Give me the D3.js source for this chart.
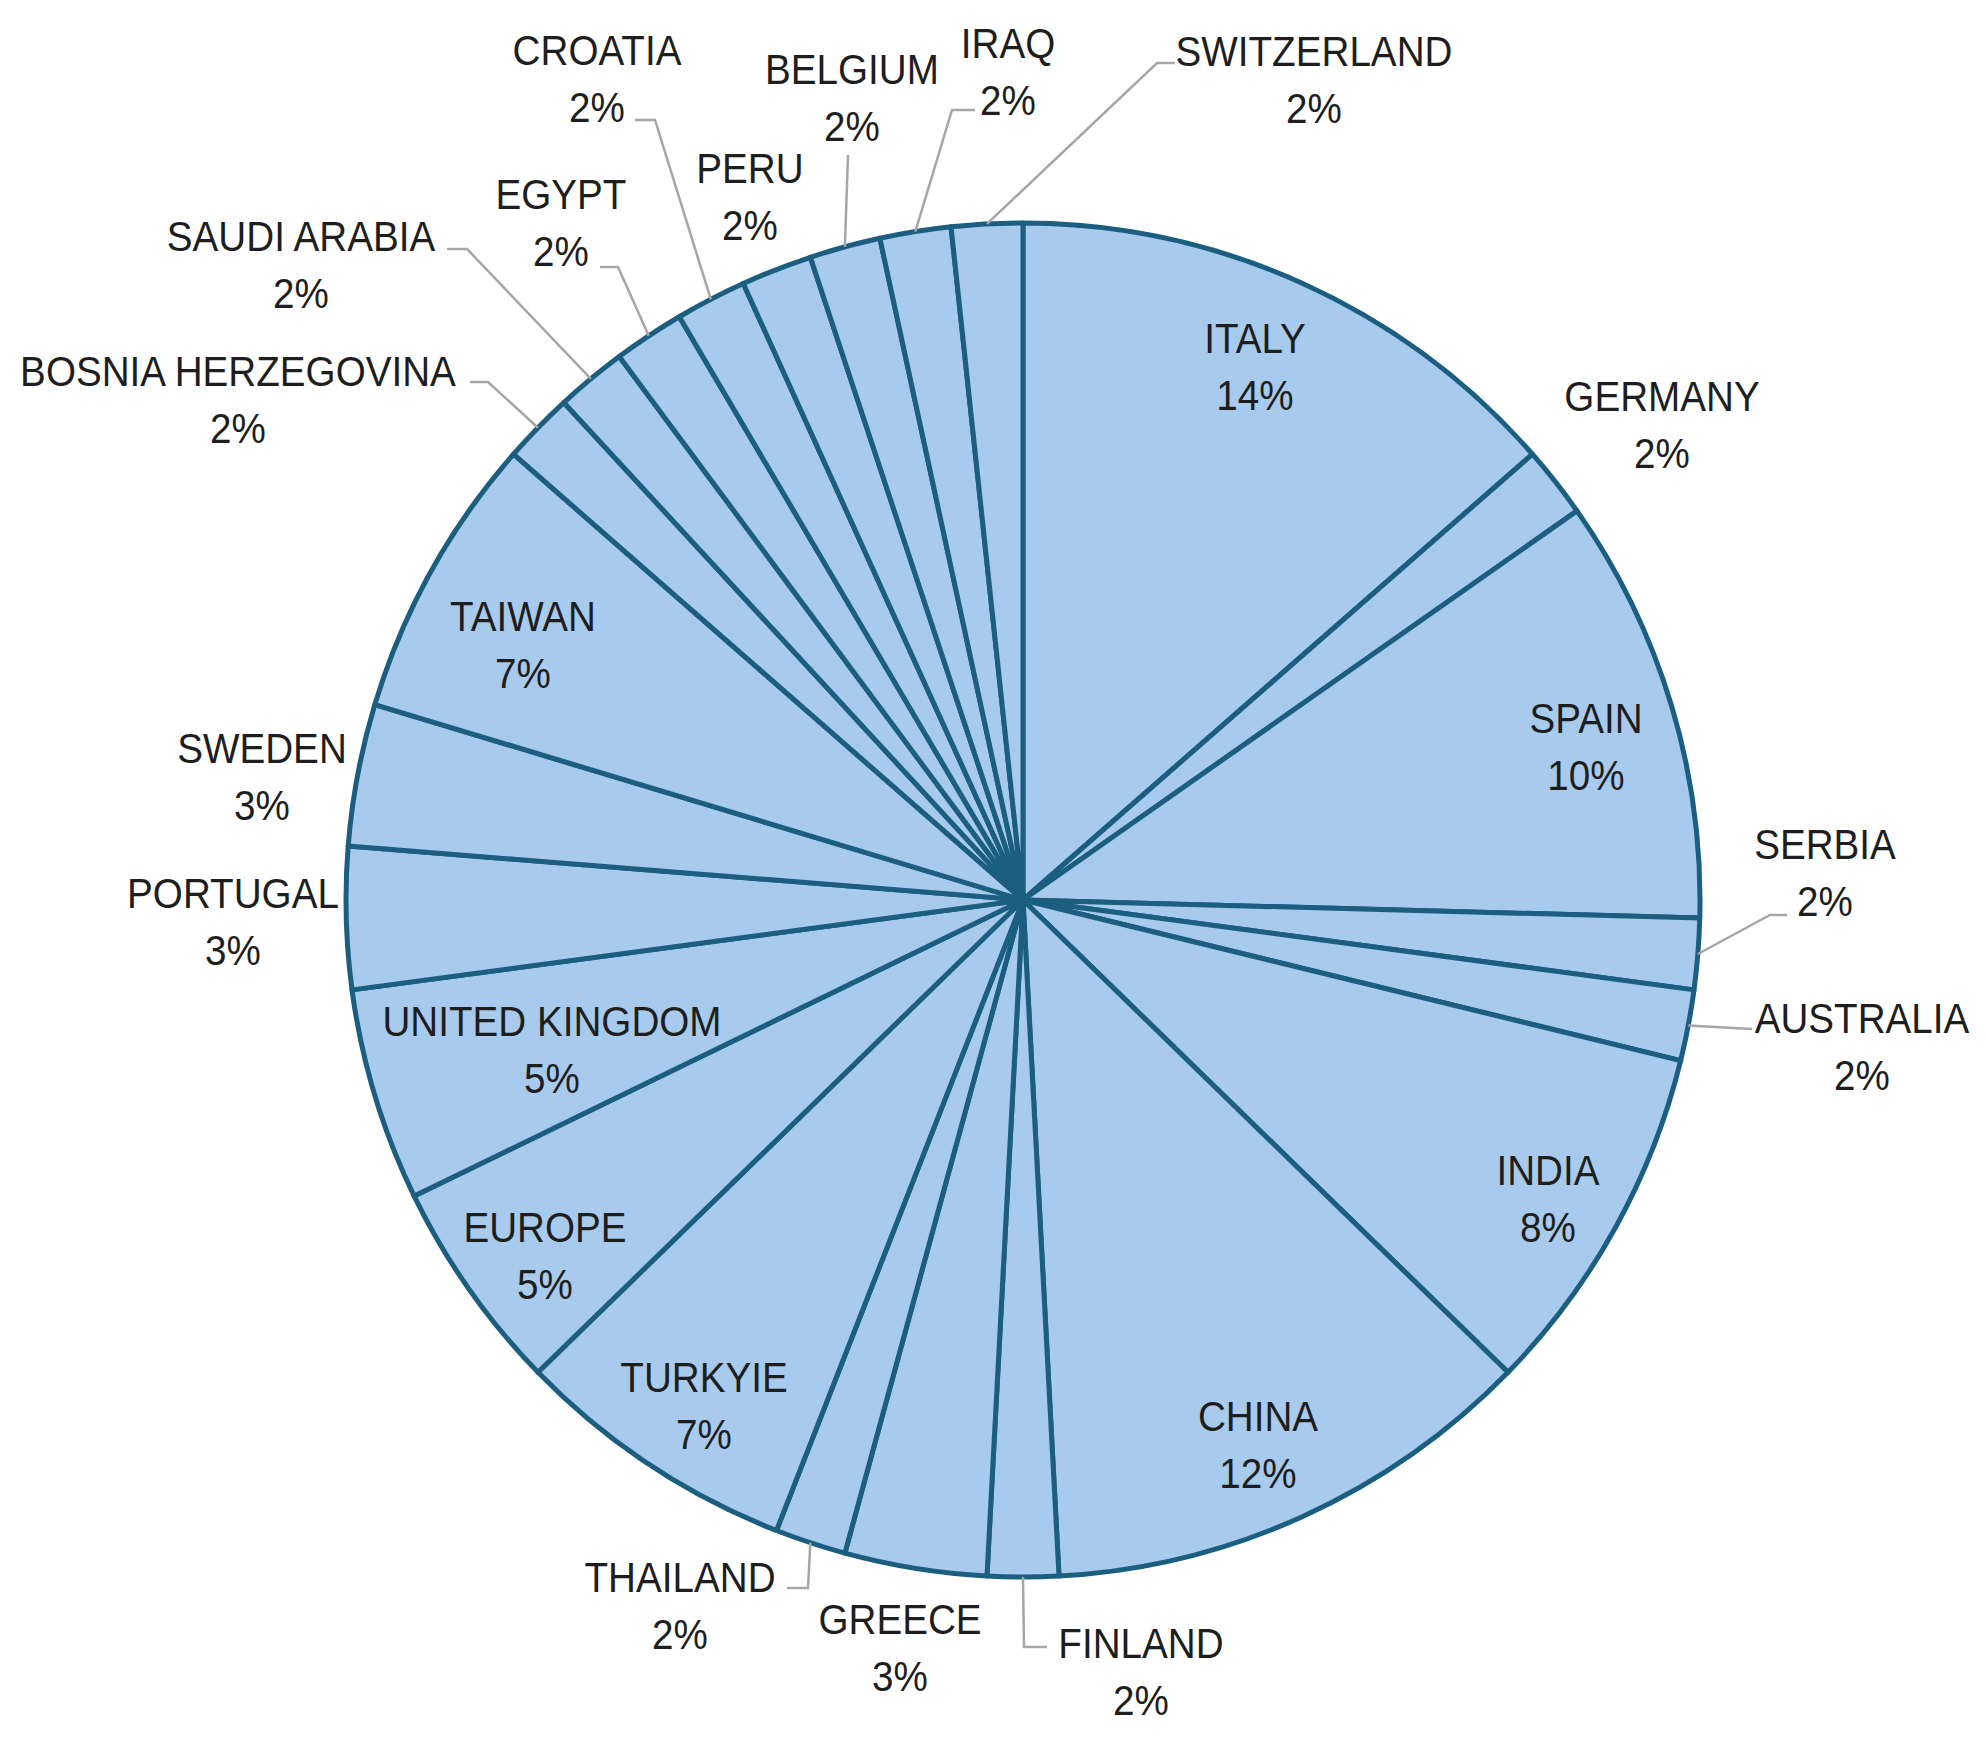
<!DOCTYPE html>
<html>
<head>
<meta charset="utf-8">
<script src="https://cdn.jsdelivr.net/npm/d3@7"></script>
<style>
  html, body { margin: 0; padding: 0; background: #ffffff; }
  svg { display: block; }
  text { font-family: "Liberation Sans", Arial, sans-serif; }
</style>
</head>
<body>
<svg id="chart" width="1986" height="1746"></svg>
<script>
// ---- DATA (counts; labels show rounded shares) ----
const categories = ["ITALY", "GERMANY", "SPAIN", "SERBIA", "AUSTRALIA", "INDIA", "CHINA",
  "FINLAND", "GREECE", "THAILAND", "TURKYIE", "EUROPE", "UNITED KINGDOM", "PORTUGAL",
  "SWEDEN", "TAIWAN", "BOSNIA HERZEGOVINA", "SAUDI ARABIA", "EGYPT", "CROATIA", "PERU",
  "BELGIUM", "IRAQ", "SWITZERLAND"];
const counts = [8, 1, 6, 1, 1, 5, 7, 1, 2, 1, 4, 3, 3, 2, 2, 4, 1, 1, 1, 1, 1, 1, 1, 1];

// ---- LAYOUT (label anchor: centre x, centre y of first line) ----
const labelPos = {
  "ITALY": [1255, 338], "GERMANY": [1662, 396], "SPAIN": [1586, 718],
  "SERBIA": [1825, 844], "AUSTRALIA": [1862, 1018], "INDIA": [1548, 1170],
  "CHINA": [1258, 1416], "FINLAND": [1141, 1643], "GREECE": [900, 1619],
  "THAILAND": [680, 1577], "TURKYIE": [704, 1377], "EUROPE": [545, 1227],
  "UNITED KINGDOM": [552, 1021], "PORTUGAL": [233, 893], "SWEDEN": [262, 748],
  "TAIWAN": [523, 616], "BOSNIA HERZEGOVINA": [238, 371], "SAUDI ARABIA": [301, 236],
  "EGYPT": [561, 194], "CROATIA": [597, 50], "PERU": [750, 168],
  "BELGIUM": [852, 69], "IRAQ": [1008, 43], "SWITZERLAND": [1314, 51]
};
// leader line points after the rim point (elbow, end)
const leaders = {
  "SERBIA": [[1770, 915], [1787, 915]],
  "AUSTRALIA": [[1752, 1029]],
  "FINLAND": [[1024, 1647], [1047, 1647]],
  "THAILAND": [[808, 1588], [787, 1588]],
  "BOSNIA HERZEGOVINA": [[488, 382], [470, 382]],
  "SAUDI ARABIA": [[467, 249], [447, 249]],
  "EGYPT": [[618, 267], [600, 267]],
  "CROATIA": [[655, 120], [635, 120]],
  "BELGIUM": [[848, 155]],
  "IRAQ": [[952, 110], [975, 110]],
  "SWITZERLAND": [[1157, 63], [1175, 63]]
};

const cx = 1023, cy = 900, R = 677;
const fontSize = 42, lineGap = 57, squeeze = 0.92;
const total = d3.sum(counts);
const data = categories.map((c, i) => ({ name: c, value: counts[i] }));

const svg = d3.select("#chart");
const g = svg.append("g").attr("transform", `translate(${cx},${cy})`);

const pie = d3.pie().sort(null).value(d => d.value);
const arc = d3.arc().innerRadius(0).outerRadius(R);
const arcs = pie(data);

g.selectAll("path.slice")
  .data(arcs)
  .join("path")
  .attr("class", "slice")
  .attr("d", arc)
  .attr("fill", "#A8CAEC")
  .attr("stroke", "#1B5E80")
  .attr("stroke-width", 5)
  .attr("stroke-linejoin", "round");

// leader lines
arcs.forEach(a => {
  const pts = leaders[a.data.name];
  if (!pts) return;
  const mid = (a.startAngle + a.endAngle) / 2;
  const start = [cx + R * Math.sin(mid), cy - R * Math.cos(mid)];
  const line = d3.line();
  svg.append("path")
    .attr("d", line([start, ...pts]))
    .attr("fill", "none")
    .attr("stroke", "#A6A6A6")
    .attr("stroke-width", 2.5);
});

// labels
const fmt = v => Math.round(v / total * 100) + "%";
arcs.forEach(a => {
  const p = labelPos[a.data.name];
  const lg = svg.append("g");
  const capHalf = fontSize * 0.716 / 2;
  lg.append("text")
    .attr("transform", `translate(${p[0]},${p[1] + capHalf}) scale(${squeeze},1)`)
    .attr("text-anchor", "middle")
    .attr("font-size", fontSize)
    .attr("fill", "#1E1E1E")
    .text(a.data.name);
  lg.append("text")
    .attr("transform", `translate(${p[0]},${p[1] + capHalf + lineGap}) scale(${squeeze},1)`)
    .attr("text-anchor", "middle")
    .attr("font-size", fontSize)
    .attr("fill", "#1E1E1E")
    .text(fmt(a.data.value));
});
</script>
</body>
</html>
